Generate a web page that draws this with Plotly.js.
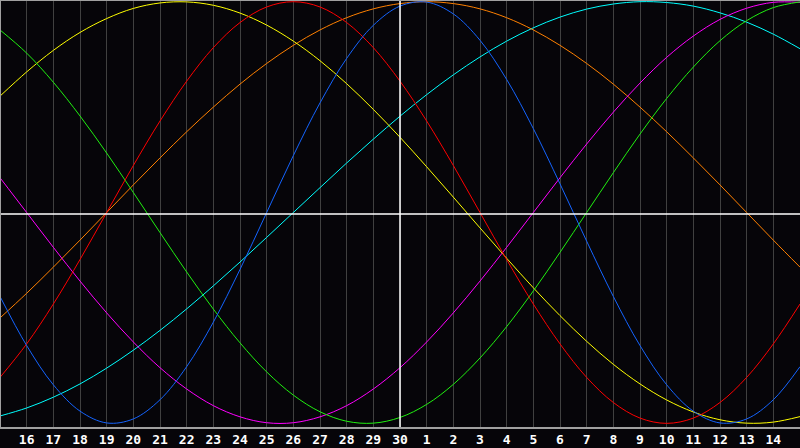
<!DOCTYPE html>
<html>
<head>
<meta charset="utf-8">
<script src="https://cdn.plot.ly/plotly-3.0.1.min.js"></script>
<style>
  html, body { margin: 0; padding: 0; background: #060509; }
  #gd { width: 800px; height: 448px; }
</style>
</head>
<body>
<div id="gd"></div>
<script>
// day of month under each column, left edge to right edge
var days = [15, 16, 17, 18, 19, 20, 21, 22, 23, 24, 25, 26, 27, 28, 29, 30,
            1, 2, 3, 4, 5, 6, 7, 8, 9, 10, 11, 12, 13, 14, 15];
var today = 15; // column of the white marker line

// cycle values per day (-1 .. 1)
var physical = [-0.398, -0.631, -0.817, -0.942, -0.998, -0.979, -0.888, -0.731, -0.520, -0.270,
                0, 0.270, 0.520, 0.731, 0.888, 0.979, 0.998, 0.942, 0.817, 0.631,
                0.398, 0.136, -0.136, -0.398, -0.631, -0.817, -0.942, -0.998, -0.979, -0.888, -0.731];
var emotional = [-0.782, -0.623, -0.434, -0.223, 0, 0.223, 0.434, 0.623, 0.782, 0.901,
                 0.975, 1, 0.975, 0.901, 0.782, 0.623, 0.434, 0.223, 0, -0.223,
                 -0.434, -0.623, -0.782, -0.901, -0.975, -1, -0.975, -0.901, -0.782, -0.623, -0.434];
var intellectual = [0.866, 0.756, 0.618, 0.458, 0.282, 0.095, -0.095, -0.282, -0.458, -0.618,
                    -0.756, -0.866, -0.945, -0.990, -0.999, -0.972, -0.910, -0.815, -0.690, -0.541,
                    -0.372, -0.189, 0, 0.189, 0.372, 0.541, 0.690, 0.815, 0.910, 0.972, 0.999];
var intuitive = [0.165, 0, -0.165, -0.325, -0.476, -0.614, -0.736, -0.837, -0.916, -0.969,
                 -0.997, -0.997, -0.969, -0.916, -0.837, -0.736, -0.614, -0.476, -0.325, -0.165,
                 0, 0.165, 0.325, 0.476, 0.614, 0.736, 0.837, 0.916, 0.969, 0.997, 0.997];
var aesthetic = [0.552, 0.667, 0.769, 0.854, 0.920, 0.968, 0.994, 0.999, 0.983, 0.946,
                 0.889, 0.813, 0.720, 0.611, 0.489, 0.357, 0.217, 0.073, -0.073, -0.217,
                 -0.357, -0.489, -0.611, -0.720, -0.813, -0.889, -0.946, -0.983, -0.999, -0.994, -0.968];
var awareness = [-0.5, -0.383, -0.259, -0.131, 0, 0.131, 0.259, 0.383, 0.5, 0.609,
                 0.707, 0.793, 0.866, 0.924, 0.966, 0.991, 1, 0.991, 0.966, 0.924,
                 0.866, 0.793, 0.707, 0.609, 0.5, 0.383, 0.259, 0.131, 0, -0.131, -0.259];
var spiritual = [-0.965, -0.927, -0.876, -0.813, -0.738, -0.653, -0.559, -0.457, -0.348, -0.235,
                 -0.118, 0, 0.118, 0.235, 0.348, 0.457, 0.559, 0.653, 0.738, 0.813,
                 0.876, 0.927, 0.965, 0.989, 1.000, 0.996, 0.979, 0.947, 0.903, 0.846, 0.777];

var xs = days.map(function (d, i) { return i; });

function cycle(name, values, color) {
  return {
    x: xs,
    y: values,
    name: name,
    type: "scatter",
    mode: "lines",
    line: {color: color, width: 1, shape: "spline", smoothing: 1},
    hoverinfo: "skip"
  };
}

var data = [
  cycle("Spiritual", spiritual, "#00ffff"),
  cycle("Awareness", awareness, "#ff8000"),
  cycle("Aesthetic", aesthetic, "#ffff00"),
  cycle("Intuitive", intuitive, "#ff00ff"),
  cycle("Intellectual", intellectual, "#20f010"),
  cycle("Emotional", emotional, "#ff0000"),
  cycle("Physical", physical, "#1464ff")
];

// labels only on inner columns
var tickvals = xs.slice(1, xs.length - 1);
var ticktext = days.slice(1, days.length - 1).map(String);

var layout = {
  width: 800,
  height: 448,
  margin: {t: 0, r: 0, b: 20, l: 0, pad: 0},
  paper_bgcolor: "#060509",
  plot_bgcolor: "#060509",
  showlegend: false,
  xaxis: {
    range: [0, xs.length - 1],
    tickvals: tickvals,
    ticktext: ticktext,
    showgrid: true,
    gridcolor: "#404040",
    gridwidth: 1,
    zeroline: false,
    ticks: "",
    showline: false,
    ticklabelstandoff: 2,
    tickfont: {family: "DejaVu Sans Mono", size: 13, color: "#ffffff", weight: "bold"},
    fixedrange: true
  },
  yaxis: {
    range: [-1.022, 1.008],
    showgrid: false,
    showticklabels: false,
    ticks: "",
    zeroline: false,
    showline: false,
    fixedrange: true
  },
  shapes: [
    {type: "line", xref: "x", yref: "paper", x0: today, x1: today, y0: 0, y1: 1,
     line: {color: "#ffffff", width: 1.5}},
    {type: "line", xref: "paper", yref: "y", x0: 0, x1: 1, y0: -0.007, y1: -0.007,
     line: {color: "#ffffff", width: 1.5}},
    {type: "line", xref: "paper", yref: "paper", x0: 0, x1: 1, y0: 1, y1: 1,
     line: {color: "#a0a0a0", width: 2}},
    {type: "line", xref: "paper", yref: "paper", x0: 0, x1: 1, y0: 0, y1: 0,
     line: {color: "#a0a0a0", width: 2}},
    {type: "line", xref: "paper", yref: "paper", x0: 0, x1: 0, y0: 0, y1: 1,
     line: {color: "#a0a0a0", width: 2}}
  ]
};

Plotly.newPlot("gd", data, layout, {staticPlot: true, displayModeBar: false});
</script>
</body>
</html>
